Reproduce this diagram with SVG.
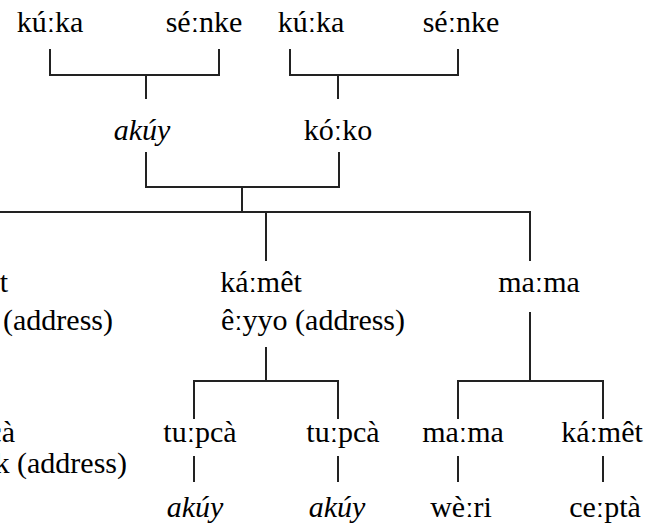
<svg xmlns="http://www.w3.org/2000/svg" width="655" height="527" viewBox="0 0 655 527">
<style>
  text { font-family: "Liberation Serif", "Times New Roman", serif; font-size: 30px; fill: #000; text-anchor: middle; }
  .it { font-style: italic; }
  .e { text-anchor: end; }
  .ln { fill: none; stroke: #222; stroke-width: 2; stroke-linecap: square; }
</style>
<rect width="655" height="527" fill="#fff"/>
<g id="connectors">
  <path class="ln" d="M50 50 V75 H219 V50 M146 75 V98"/>
  <path class="ln" d="M290 50 V75 H458 V50 M338 75 V98"/>
  <path class="ln" d="M146 153 V187 H339 V153 M242 187 V212"/>
  <path class="ln" d="M-2 212 H530 V260 M266 212 V260"/>
  <path class="ln" d="M266 348 V381 M194 418 V381 H338 V418"/>
  <path class="ln" d="M530 313 V381 M458 418 V381 H603 V418"/>
  <path class="ln" d="M194 457 V481 M338 457 V481 M458 457 V481 M603 457 V481"/>
</g>
<g id="n-kuka1"><text x="50" y="32">kúːka</text></g>
<g id="n-senke1"><text x="204" y="32">séːnke</text></g>
<g id="n-kuka2"><text x="311" y="32">kúːka</text></g>
<g id="n-senke2"><text x="461" y="32">séːnke</text></g>
<g id="n-akuy-top"><text class="it" x="142" y="140">akúy</text></g>
<g id="n-koko"><text x="338" y="140">kóːko</text></g>
<g id="n-left-partial"><text class="e" x="8" y="292">t</text><text class="e" x="113" y="330">(address)</text></g>
<g id="n-kamet-mid"><text x="261" y="292">káːmêt</text><text x="313" y="330">êːyyo (address)</text></g>
<g id="n-mama-mid"><text x="539" y="292">maːma</text></g>
<g id="n-left-partial2"><text class="e" x="15" y="442">cà</text><text class="e" x="127" y="473">k (address)</text></g>
<g id="n-tupca1"><text x="200" y="442">tuːpcà</text></g>
<g id="n-tupca2"><text x="343" y="442">tuːpcà</text></g>
<g id="n-mama-low"><text x="463" y="442">maːma</text></g>
<g id="n-kamet-low"><text x="602" y="442">káːmêt</text></g>
<g id="n-akuy1"><text class="it" x="195" y="517">akúy</text></g>
<g id="n-akuy2"><text class="it" x="337" y="517">akúy</text></g>
<g id="n-weri"><text x="461" y="517">wèːri</text></g>
<g id="n-cepta"><text x="605" y="517">ceːptà</text></g>
</svg>
